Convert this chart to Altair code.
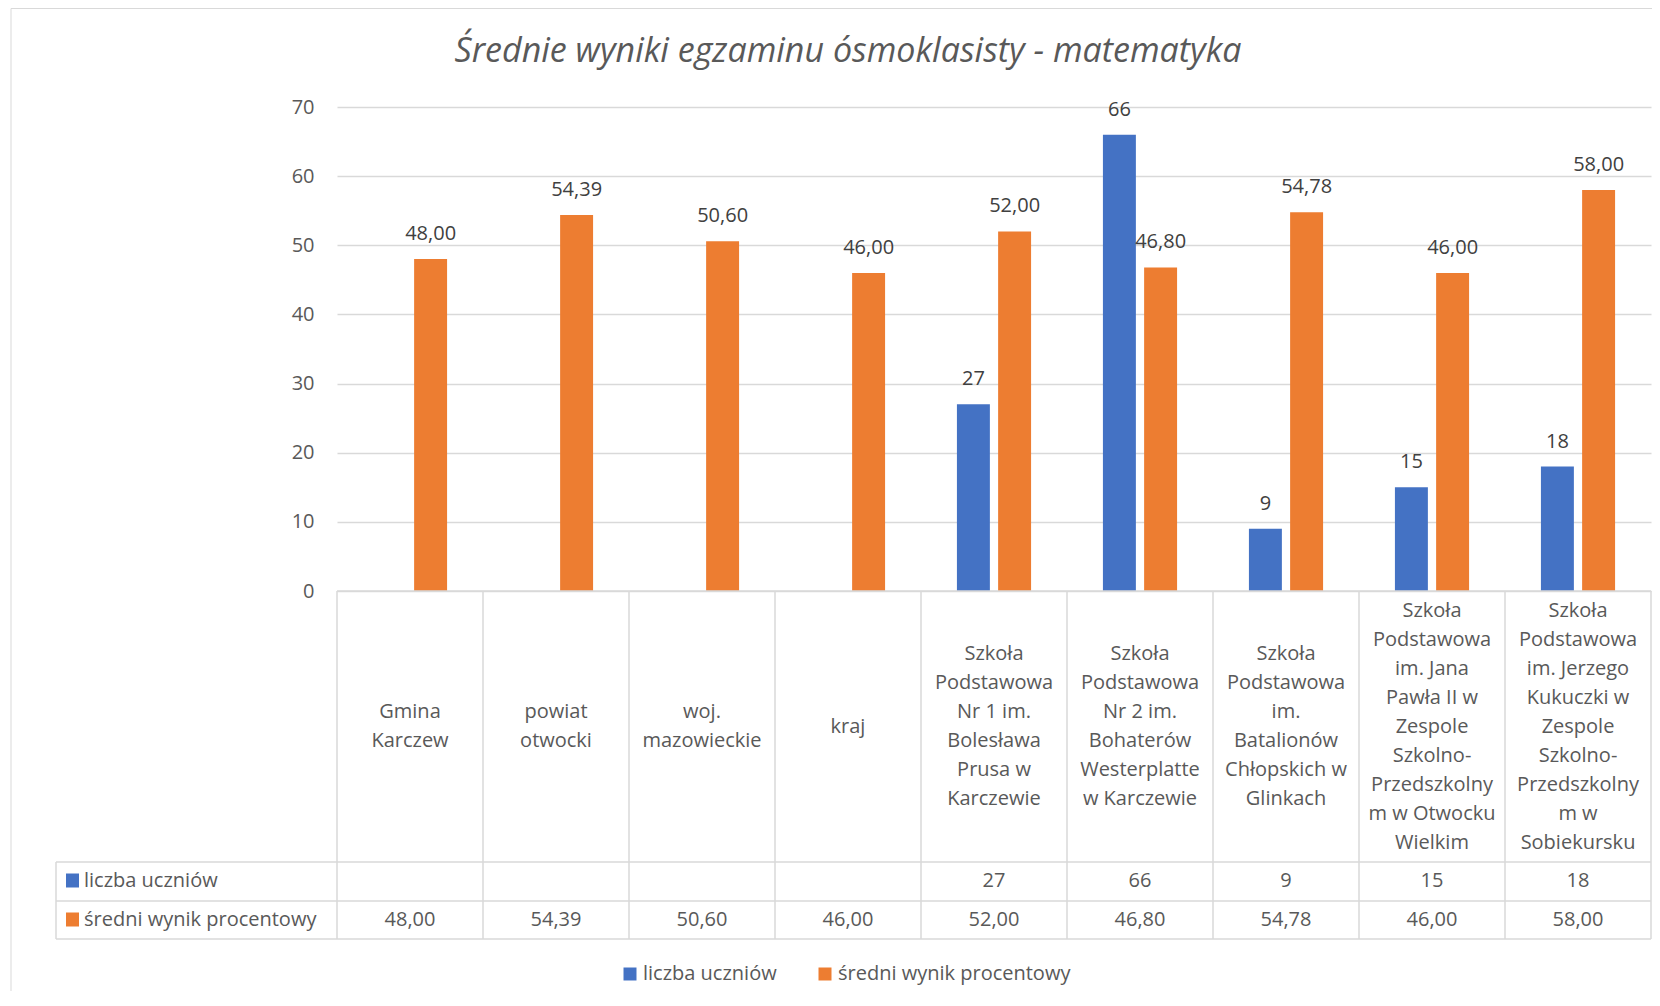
import altair as alt
import pandas as pd

# ---------------- data ----------------
title_text = "Średnie wyniki egzaminu ósmoklasisty - matematyka"
categories = [
    "Gmina Karczew",
    "powiat otwocki",
    "woj. mazowieckie",
    "kraj",
    "Szkoła Podstawowa Nr 1 im. Bolesława Prusa w Karczewie",
    "Szkoła Podstawowa Nr 2 im. Bohaterów Westerplatte w Karczewie",
    "Szkoła Podstawowa im. Batalionów Chłopskich w Glinkach",
    "Szkoła Podstawowa im. Jana Pawła II w Zespole Szkolno-Przedszkolnym w Otwocku Wielkim",
    "Szkoła Podstawowa im. Jerzego Kukuczki w Zespole Szkolno-Przedszkolnym w Sobiekursku",
]
category_lines = [
    "Gmina\nKarczew",
    "powiat\notwocki",
    "woj.\nmazowieckie",
    "kraj",
    "Szkoła\nPodstawowa\nNr 1 im.\nBolesława\nPrusa w\nKarczewie",
    "Szkoła\nPodstawowa\nNr 2 im.\nBohaterów\nWesterplatte\nw Karczewie",
    "Szkoła\nPodstawowa\nim.\nBatalionów\nChłopskich w\nGlinkach",
    "Szkoła\nPodstawowa\nim. Jana\nPawła II w\nZespole\nSzkolno-\nPrzedszkolny\nm w Otwocku\nWielkim",
    "Szkoła\nPodstawowa\nim. Jerzego\nKukuczki w\nZespole\nSzkolno-\nPrzedszkolny\nm w\nSobiekursku",
]
series = ["liczba uczniów", "średni wynik procentowy"]
colors = ["#4472C4", "#ED7D31"]
liczba_uczniow = [None, None, None, None, 27, 66, 9, 15, 18]
sredni_wynik = [48.00, 54.39, 50.60, 46.00, 52.00, 46.80, 54.78, 46.00, 58.00]
y_ticks = [0, 10, 20, 30, 40, 50, 60, 70]

LINE_H = 29


def fmt_count(v):
    return "" if v is None else str(int(v))


def fmt_pct(v):
    return f"{v:.2f}".replace(".", ",")


cat_df = pd.DataFrame({
    "cat": categories,
    "lines": category_lines,
    "n_label": [fmt_count(v) for v in liczba_uczniow],
    "p_label": [fmt_pct(v) for v in sredni_wynik],
})
# vertical centring of a multi-line label block
cat_df["off"] = [-(s.count("\n")) * LINE_H / 2 for s in category_lines]

rows = []
for c, n, p in zip(categories, liczba_uczniow, sredni_wynik):
    if n is not None:
        rows.append({"cat": c, "series": series[0], "value": n, "label": fmt_count(n)})
    rows.append({"cat": c, "series": series[1], "value": p, "label": fmt_pct(p)})
long_df = pd.DataFrame(rows)
one = pd.DataFrame({"k": [0]})

# ---------------- layout / style ----------------
W, H = 1314, 484
FONT = "Open Sans"
GRID = "#D9D9D9"
TXT = "#595959"
DARK = "#404040"
FS = 20


def xcat(**kw):
    return alt.X("cat:N", sort=categories,
                 scale=alt.Scale(paddingInner=0, paddingOuter=0),
                 axis=None, **kw)


def yval():
    return alt.Y("value:Q",
                 scale=alt.Scale(domain=[0, 70], nice=False),
                 axis=alt.Axis(values=y_ticks, title=None, domain=False, ticks=False,
                               labelFontSize=FS, labelColor=TXT, labelFont=FONT,
                               labelPadding=23, gridColor=GRID, gridWidth=1.5))


xoff = alt.XOffset("series:N", sort=series,
                   scale=alt.Scale(domain=series, paddingInner=0.2, paddingOuter=0.872))

border = alt.Chart(one).mark_rect(fillOpacity=0, stroke=GRID, strokeWidth=1).encode(
    x=alt.value(-326), x2=alt.value(W + 60), y=alt.value(-98.5), y2=alt.value(H + 500))

title = alt.Chart(one).mark_text(fontSize=34, fontStyle="italic", color=TXT,
                                 align="center", baseline="middle").encode(
    x=alt.value(511), y=alt.value(-55), text=alt.value(title_text))

bars = alt.Chart(long_df).mark_bar().encode(
    x=xcat(), xOffset=xoff, y=yval(),
    color=alt.Color("series:N", scale=alt.Scale(domain=series, range=colors),
                    legend=alt.Legend(orient="none", legendX=283, legendY=857,
                                      direction="horizontal", title=None,
                                      symbolType="square", symbolSize=169,
                                      symbolStrokeWidth=0, labelFontSize=FS,
                                      labelFont=FONT, labelColor=TXT,
                                      columnPadding=38, labelOffset=3,
                                      labelLimit=400, padding=0)),
)

bar_labels = alt.Chart(long_df).mark_text(dy=-25, baseline="middle", fontSize=FS,
                                          color=DARK).encode(
    x=xcat(), xOffset=xoff, y=yval(), text="label:N")

vlines = alt.Chart(cat_df).mark_rule(color=GRID, strokeWidth=1.5).encode(
    x=xcat(bandPosition=0), y=alt.value(H), y2=alt.value(H + 348))
vline_end = alt.Chart(cat_df.tail(1)).mark_rule(color=GRID, strokeWidth=1.5).encode(
    x=xcat(bandPosition=1), y=alt.value(H), y2=alt.value(H + 348))

hlines = []
for yy in [271, 310, 348]:
    hlines.append(alt.Chart(one).mark_rule(color=GRID, strokeWidth=1.5).encode(
        x=alt.value(-281), x2=alt.value(W), y=alt.value(H + yy)))
hlines.append(alt.Chart(one).mark_rule(color=GRID, strokeWidth=1.5).encode(
    x=alt.value(0), x2=alt.value(W), y=alt.value(H)))
hlines.append(alt.Chart(one).mark_rule(color=GRID, strokeWidth=1.5).encode(
    x=alt.value(-281), y=alt.value(H + 271), y2=alt.value(H + 348)))

cat_text = alt.Chart(cat_df).mark_text(lineBreak="\n", lineHeight=LINE_H, fontSize=FS,
                                       color=TXT, baseline="middle", align="center").encode(
    x=xcat(), y=alt.value(H + 135.5),
    yOffset=alt.YOffset("off:Q", scale=None), text="lines:N")

row_y = [H + 289.5, H + 328.5]
n_text = alt.Chart(cat_df).mark_text(fontSize=FS, color=TXT, baseline="middle").encode(
    x=xcat(), y=alt.value(row_y[0]), text="n_label:N")
p_text = alt.Chart(cat_df).mark_text(fontSize=FS, color=TXT, baseline="middle").encode(
    x=xcat(), y=alt.value(row_y[1]), text="p_label:N")

row_heads = []
for i, s in enumerate(series):
    sd = pd.DataFrame({"s": [s]})
    row_heads.append(alt.Chart(sd).mark_rect(color=colors[i]).encode(
        x=alt.value(-271), x2=alt.value(-258),
        y=alt.value(row_y[i] - 7), y2=alt.value(row_y[i] + 7)))
    row_heads.append(alt.Chart(sd).mark_text(fontSize=FS, color=TXT, align="left",
                                             baseline="middle").encode(
        x=alt.value(-253), y=alt.value(row_y[i]), text="s:N"))

chart = alt.layer(
    border, title, bars, bar_labels, vlines, vline_end, *hlines,
    cat_text, n_text, p_text, *row_heads
).properties(
    width=W, height=H,
    padding={"left": 329, "top": 99, "right": 1, "bottom": 400},
    autosize=alt.AutoSizeParams(type="none"),
).configure(font=FONT).configure_view(strokeWidth=0)

chart.save("out.html", embed_options={"renderer": "svg", "actions": False})
